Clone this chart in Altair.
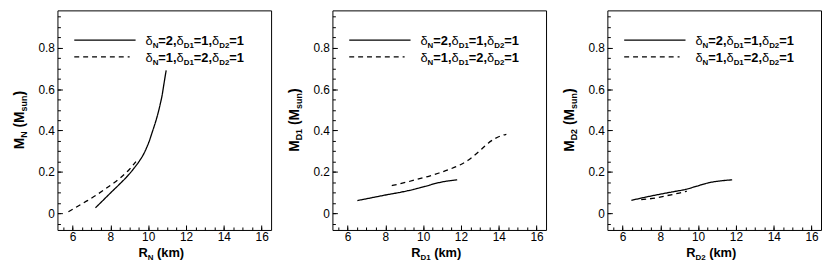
import altair as alt
import pandas as pd

# ---------------- data ----------------
series_names = ["δN=2,δD1=1,δD2=1", "δN=1,δD1=2,δD2=1"]

# Panel 1: R_N (km) vs M_N (M_sun)
p1_solid_r = [7.21, 7.6, 8.02, 8.45, 8.88, 9.25, 9.57, 9.78, 9.92, 10.05, 10.17, 10.3, 10.43, 10.55, 10.65, 10.74, 10.81, 10.88, 10.95]
p1_solid_m = [0.027, 0.062, 0.1, 0.138, 0.178, 0.218, 0.258, 0.29, 0.318, 0.347, 0.38, 0.416, 0.454, 0.494, 0.533, 0.572, 0.612, 0.652, 0.69]
p1_dash_r = [5.78, 6.3, 6.81, 7.25, 7.67, 8.1, 8.53, 9.0, 9.35]
p1_dash_m = [0.008, 0.036, 0.063, 0.088, 0.114, 0.142, 0.172, 0.212, 0.25]

# Panel 2: R_D1 (km) vs M_D1 (M_sun)
p2_solid_r = [6.52, 7.3, 8.08, 8.8, 9.46, 10.1, 10.67, 11.2, 11.8]
p2_solid_m = [0.062, 0.076, 0.09, 0.102, 0.115, 0.13, 0.145, 0.155, 0.162]
p2_dash_r = [8.34, 9.0, 9.63, 10.25, 10.84, 11.4, 11.97, 12.4, 12.75, 13.1, 13.44, 13.8, 14.13, 14.4]
p2_dash_m = [0.134, 0.148, 0.163, 0.178, 0.195, 0.213, 0.235, 0.258, 0.283, 0.311, 0.339, 0.361, 0.375, 0.382]

# Panel 3: R_D2 (km) vs M_D2 (M_sun)
p3_solid_r = [6.47, 7.2, 7.95, 8.65, 9.34, 9.95, 10.56, 11.1, 11.8]
p3_solid_m = [0.063, 0.078, 0.092, 0.104, 0.116, 0.132, 0.148, 0.156, 0.162]
p3_dash_r = [6.99, 7.4, 7.77, 8.2, 8.64, 9.0, 9.4]
p3_dash_m = [0.066, 0.07, 0.075, 0.083, 0.091, 0.098, 0.107]

x_major = [6, 8, 10, 12, 14, 16]
x_minor = [5.5 + 0.5 * i for i in range(22)]
y_major = [0, 0.2, 0.4, 0.6, 0.8]
y_minor = [round(-0.05 + 0.05 * i, 2) for i in range(21)]

x_subs = ["N", "D1", "D2"]

# ---------------- layout helpers ----------------
W, H = 216, 222
FONT = "Liberation Sans"

BOLD = {" ": .278, "(": .333, ")": .333, ",": .278, "=": .584, "D": .722, "M": .833,
        "N": .722, "R": .722, "k": .556, "m": .889, "n": .611, "s": .556, "u": .611}
for d in "0123456789":
    BOLD[d] = .556


def text_width(t, size, weight):
    if weight == "normal":
        return 0.556 * len(t) * size
    return sum(BOLD.get(c, .6) for c in t) * size


one = pd.DataFrame({"k": [0]})


def piece(t, x, y, size, weight="bold", angle=0):
    return alt.Chart(one).mark_text(
        text=t, font=FONT, fontSize=size, fontWeight=weight, align="left",
        baseline="alphabetic", angle=angle, color="black"
    ).encode(x=alt.value(x), y=alt.value(y))


def hrun(parts, x0, y0):
    layers = []
    x = x0
    for t, size, weight, dy in parts:
        if t.strip():
            layers.append(piece(t, x, y0 + dy, size, weight))
        x += text_width(t, size, weight)
    return layers


def vrun(parts, xb, y0):
    layers = []
    y = y0
    for t, size, weight, dx in parts:
        if t.strip():
            layers.append(piece(t, xb + dx, y, size, weight, angle=270))
        y -= text_width(t, size, weight)
    return layers


def legend_parts(a, b, c):
    return [("δ", 13, "normal", 0), ("N", 8, "bold", 3), ("=%s," % a, 13, "bold", 0),
            ("δ", 13, "normal", 0), ("D1", 8, "bold", 3), ("=%s," % b, 13, "bold", 0),
            ("δ", 13, "normal", 0), ("D2", 8, "bold", 3), ("=%s" % c, 13, "bold", 0)]


def panel(sr, sm, dr, dm, sub):
    df = pd.concat([
        pd.DataFrame({"r": sr, "m": sm, "series": series_names[0]}),
        pd.DataFrame({"r": dr, "m": dm, "series": series_names[1]}),
    ])
    xs = alt.Scale(domain=[5.2, 16.5], nice=False, zero=False)
    ys = alt.Scale(domain=[-0.08, 0.98], nice=False, zero=False)

    lines = alt.Chart(df).mark_line(color="black", strokeWidth=1.3, interpolate="monotone").encode(
        x=alt.X("r:Q", scale=xs, axis=alt.Axis(orient="bottom", values=x_major, format="d", ticks=False,
                                                domain=False, grid=False, title=None, labelPadding=2)),
        y=alt.Y("m:Q", scale=ys, axis=alt.Axis(orient="left", values=y_major, format="~g", ticks=False,
                                                domain=False, grid=False, title=None, labelPadding=3)),
        strokeDash=alt.StrokeDash("series:N", scale=alt.Scale(domain=series_names, range=[[1, 0], [5, 4]]),
                                  legend=None),
        detail="series:N",
    )

    def tick_layer(xv, yv, size):
        return alt.Chart(df).mark_line(opacity=0).encode(
            x=alt.X("r:Q", scale=xs, axis=alt.Axis(orient="top", offset=-H, values=xv, labels=False,
                                                    tickSize=size, tickColor="black", domain=False,
                                                    grid=False, title=None)),
            y=alt.Y("m:Q", scale=ys, axis=alt.Axis(orient="right", offset=-W, values=yv, labels=False,
                                                    tickSize=size, tickColor="black", domain=False,
                                                    grid=False, title=None)),
        )

    layers = [lines, tick_layer(x_major, y_major, 5), tick_layer(x_minor, y_minor, 3)]

    # legend samples
    layers.append(alt.Chart(one).mark_rule(color="black", strokeWidth=1.3).encode(
        x=alt.value(17), x2=alt.value(79), y=alt.value(30)))
    layers.append(alt.Chart(one).mark_rule(color="black", strokeWidth=1.3, strokeDash=[5, 4]).encode(
        x=alt.value(17), x2=alt.value(73), y=alt.value(47)))
    layers += hrun(legend_parts(2, 1, 1), 89, 35)
    layers += hrun(legend_parts(1, 2, 1), 89, 52)

    # x title
    xparts = [("R", 13, "bold", 0), (sub, 8, "bold", 3), (" ", 13, "bold", 0), ("(km)", 13, "bold", 0)]
    xw = sum(text_width(t, s, w) for t, s, w, _ in xparts)
    layers += hrun(xparts, W / 2 - 3 - xw / 2, H + 27)

    # y title (rotated)
    yparts = [("M", 14, "bold", 0), (sub, 9, "bold", 3), (" ", 14, "bold", 0), ("(", 14, "bold", 0),
              ("M", 14, "bold", 0), ("sun", 9, "bold", 3), (")", 14, "bold", 0)]
    yw = sum(text_width(t, s, w) for t, s, w, _ in yparts)
    layers += vrun(yparts, -34, H / 2 + yw / 2)

    return alt.layer(*layers).resolve_axis(x="independent", y="independent").properties(width=W, height=H)


chart = alt.hconcat(
    panel(p1_solid_r, p1_solid_m, p1_dash_r, p1_dash_m, x_subs[0]),
    panel(p2_solid_r, p2_solid_m, p2_dash_r, p2_dash_m, x_subs[1]),
    panel(p3_solid_r, p3_solid_m, p3_dash_r, p3_dash_m, x_subs[2]),
    spacing=62,
    bounds="flush",
).properties(padding={"left": 4, "top": 0, "right": 0, "bottom": 0}, background="white").configure_view(
    stroke="black", strokeWidth=1
).configure_axis(
    labelFont=FONT, labelFontSize=12, labelColor="black"
)

chart.save("out.html", embed_options={"renderer": "svg", "actions": False})
